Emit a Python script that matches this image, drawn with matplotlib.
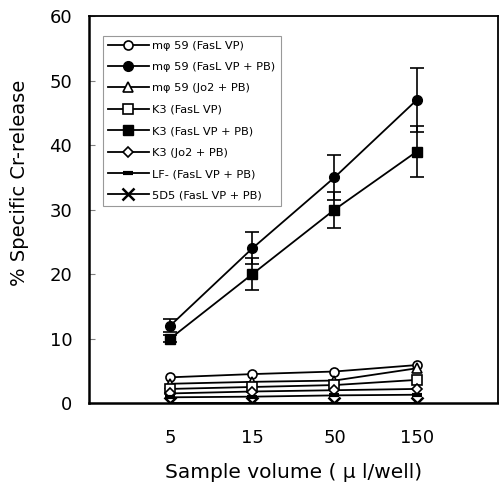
import numpy as np
import matplotlib
matplotlib.use('Agg')
import matplotlib.pyplot as plt

plt.rcParams['font.family'] = ['DejaVu Sans']

volumes = ['5', '15', '50', '150']

mphi_fasl = [4.0, 4.5, 4.9, 5.9]
mphi_fasl_pb = [12.0, 24.0, 35.0, 47.0]
mphi_fasl_pb_err = [1.0, 2.5, 3.5, 5.0]
mphi_jo2_pb = [3.0, 3.3, 3.5, 5.4]
k3_fasl = [2.2, 2.5, 2.8, 3.6]
k3_fasl_pb = [10.0, 20.0, 30.0, 39.0]
k3_fasl_pb_err = [0.5, 2.5, 2.8, 4.0]
k3_jo2_pb = [1.5, 1.8, 2.0, 2.2]
lf_fasl_pb = [0.9, 1.0, 1.2, 1.3]
d5_fasl_pb = [0.0, 0.0, 0.0, 0.0]

labels = ['m\u03c6 59 (FasL VP)', 'm\u03c6 59 (FasL VP + PB)', 'm\u03c6 59 (Jo2 + PB)',
          'K3 (FasL VP)', 'K3 (FasL VP + PB)', 'K3 (Jo2 + PB)',
          'LF- (FasL VP + PB)', '5D5 (FasL VP + PB)']

fig = plt.figure(figsize=(4.99, 4.91), dpi=100)
ax = fig.add_axes([0.178, 0.179, 0.820, 0.788])

x = np.arange(len(volumes))
lw = 1.3
ms = 6.5
open_kw = dict(color='black', lw=lw, ms=ms, mfc='white', mec='black', mew=1.2)

ax.plot(x, mphi_fasl, '-o', label=labels[0], **open_kw)
ax.plot(x, mphi_fasl_pb, '-o', color='black', lw=lw, ms=ms + 0.5, label=labels[1])
ax.errorbar(x, mphi_fasl_pb, yerr=mphi_fasl_pb_err, fmt='none', ecolor='black',
            capsize=5, elinewidth=1.2, capthick=1.2)
ax.plot(x, mphi_jo2_pb, '-^', label=labels[2], **open_kw)
ax.plot(x, k3_fasl, '-s', label=labels[3], **open_kw)
ax.plot(x, k3_fasl_pb, '-s', color='black', lw=lw, ms=ms + 0.5, label=labels[4])
ax.errorbar(x, k3_fasl_pb, yerr=k3_fasl_pb_err, fmt='none', ecolor='black',
            capsize=5, elinewidth=1.2, capthick=1.2)
ax.plot(x, k3_jo2_pb, '-D', color='black', lw=lw, ms=5, mfc='white', mec='black', mew=1.2, label=labels[5])
ax.plot(x, lf_fasl_pb, '-_', color='black', lw=lw, ms=7, mew=3, label=labels[6])
ax.plot(x, d5_fasl_pb, '-x', color='black', lw=lw, ms=8, mew=1.8, label=labels[7])

ax.set_xlim(-0.99, 3.99)
ax.set_ylim(0, 60)
ax.set_yticks([0, 10, 20, 30, 40, 50, 60])
ax.set_xticks(x)
ax.set_xticklabels(volumes)

ax.tick_params(axis='x', length=0, pad=19, labelsize=13)
ax.tick_params(axis='y', direction='in', length=4, width=0.8, color='gray', pad=12, labelsize=13)

for side in ['left', 'bottom']:
    ax.spines[side].set_linewidth(1.8)
for side in ['top', 'right']:
    ax.spines[side].set_linewidth(1.3)

ax.set_xlabel('Sample volume ( \u03bc l/well)', fontsize=14.5, labelpad=11)
ax.set_ylabel('% Specific Cr-release', fontsize=14)
ax.yaxis.set_label_coords(-0.145, 0.57)

leg = ax.legend(loc='upper left', bbox_to_anchor=(0.034, 0.95), fontsize=8.2, frameon=True,
                fancybox=False, edgecolor='gray', handlelength=3.6, labelspacing=1.0,
                borderpad=0.45, handletextpad=0.3, borderaxespad=0)
leg.get_frame().set_linewidth(0.8)

fig.savefig('out.png', dpi=100)
